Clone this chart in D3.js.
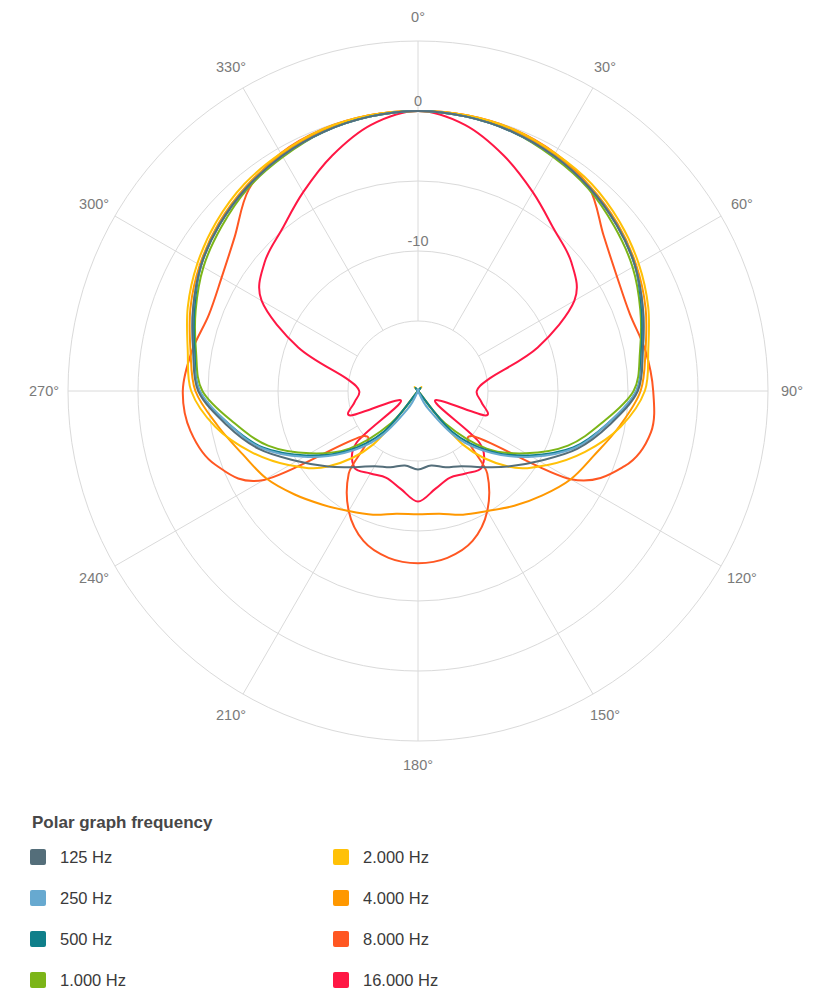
<!DOCTYPE html>
<html><head><meta charset="utf-8">
<script src="https://cdn.jsdelivr.net/npm/d3@7"></script>
<style>
body{margin:0;background:#fff;font-family:"Liberation Sans",Arial,Helvetica,sans-serif;}
</style></head><body>
<svg id="chart" width="825" height="993"></svg>
<script>
const angles = [0,10,20,30,40,50,60,70,80,90,100,110,120,130,140,150,160,170,180,190,200,210,220,230,240,250,260,270,280,290,300,310,320,330,340,350];
const hz125 = [0,-0.1,-0.3,-0.6,-1.0,-1.5,-2.1,-2.9,-3.7,-4.3,-6.1,-7.9,-10.0,-11.6,-12.9,-13.8,-14.2,-14.6,-14.4,-14.6,-14.2,-13.8,-12.9,-11.6,-10.0,-7.9,-6.1,-4.3,-3.7,-2.9,-2.1,-1.5,-1.0,-0.6,-0.3,-0.1];
const hz250 = [0,-0.1,-0.3,-0.6,-1.0,-1.5,-2.1,-2.9,-3.7,-4.4,-6.3,-8.1,-10.6,-13.1,-15.6,-18.5,-23.5,-27.0,-28.0,-27.0,-23.5,-18.5,-15.6,-13.1,-10.6,-8.1,-6.3,-4.4,-3.7,-2.9,-2.1,-1.5,-1.0,-0.6,-0.3,-0.1];
const hz500 = [0,-0.1,-0.3,-0.6,-1.0,-1.5,-2.1,-3.0,-3.8,-4.4,-6.3,-8.2,-10.8,-13.3,-16.2,-21.0,-25.0,-28.0,-29.0,-28.0,-25.0,-21.0,-16.2,-13.3,-10.8,-8.2,-6.3,-4.4,-3.8,-3.0,-2.1,-1.5,-1.0,-0.6,-0.3,-0.1];
const hz1000 = [0,-0.1,-0.3,-0.7,-1.1,-1.7,-2.3,-3.1,-3.9,-4.6,-6.7,-8.6,-11.1,-13.6,-17.0,-22.0,-26.0,-28.0,-30.0,-28.0,-26.0,-22.0,-17.0,-13.6,-11.1,-8.6,-6.7,-4.6,-3.9,-3.1,-2.3,-1.7,-1.1,-0.7,-0.3,-0.1];
const hz2000 = [0,0,-0.1,-0.4,-0.7,-1.2,-1.8,-2.5,-3.3,-3.8,-5.3,-7.3,-9.4,-11.6,-15.0,-21.0,-25.0,-27.0,-27.0,-27.0,-25.0,-21.0,-15.0,-11.6,-9.4,-7.3,-5.3,-3.8,-3.3,-2.5,-1.8,-1.2,-0.7,-0.4,-0.1,0];
const hz4000 = [0,0,-0.2,-0.5,-0.9,-1.4,-2.0,-2.7,-3.5,-4.1,-5.4,-6.6,-7.4,-8.4,-9.3,-10.1,-10.6,-11.1,-11.2,-11.1,-10.6,-10.1,-9.4,-8.5,-7.5,-6.7,-5.5,-4.1,-3.5,-2.7,-2.0,-1.4,-0.9,-0.5,-0.2,0];
const hz8000 = [0,0,-0.1,-0.4,-1.0,-2.7,-3.6,-3.9,-3.5,-3.2,-3.1,-4.3,-7.4,-15.0,-12.3,-10.1,-8.6,-7.9,-7.7,-7.9,-8.6,-10.1,-12.3,-15.0,-7.3,-4.6,-3.5,-3.2,-3.6,-4.1,-3.8,-2.9,-1.2,-0.4,-0.1,0];
const hz16000 = [0,-0.7,-2.1,-3.6,-4.9,-5.7,-7.1,-10.9,-14.8,-15.8,-15.4,-14.9,-18.6,-14.3,-12.9,-13.2,-13.4,-12.9,-12.1,-12.9,-13.4,-13.2,-12.9,-14.3,-18.6,-14.9,-15.4,-15.8,-14.8,-10.9,-7.1,-5.7,-4.9,-3.6,-2.1,-0.7];

const seriesNames = ["125 Hz","250 Hz","500 Hz","1.000 Hz","2.000 Hz","4.000 Hz","8.000 Hz","16.000 Hz"];
const seriesColors = ["#546E7A","#67A9D0","#0F7F8A","#7CB518","#FFC107","#FF9800","#FF5722","#FF1744"];
const seriesValues = [hz125,hz250,hz500,hz1000,hz2000,hz4000,hz8000,hz16000];

const gridAngles = [0,30,60,90,120,150,180,210,240,270,300,330];
const gridAngleLabels = ["0°","30°","60°","90°","120°","150°","180°","210°","240°","270°","300°","330°"];
const radialTicks = [-15,-10,-5,0,5];
const radialTickLabels = ["","-10","","0",""];
const legendTitle = "Polar graph frequency";

const svg = d3.select("#chart");
const cx = 418, cy = 391, R = 350;
const r = d3.scaleLinear().domain([-20,5]).range([0,R]).clamp(true);
const rad = d => d * Math.PI / 180;
const g = svg.append("g").attr("transform", `translate(${cx},${cy})`);

g.selectAll("circle.grid").data(radialTicks).join("circle")
  .attr("class","grid").attr("r", d => r(d))
  .attr("fill","none").attr("stroke","#dadada").attr("stroke-width",1);

g.selectAll("line.spoke").data(gridAngles).join("line")
  .attr("class","spoke")
  .attr("x1", d => r(radialTicks[0]) * Math.sin(rad(d)))
  .attr("y1", d => -r(radialTicks[0]) * Math.cos(rad(d)))
  .attr("x2", d => R * Math.sin(rad(d)))
  .attr("y2", d => -R * Math.cos(rad(d)))
  .attr("stroke","#dadada").attr("stroke-width",1);

g.selectAll("text.alab").data(gridAngles).join("text")
  .attr("class","alab")
  .attr("x", d => (R + 24) * Math.sin(rad(d)))
  .attr("y", d => -(R + 24) * Math.cos(rad(d)))
  .attr("text-anchor","middle").attr("dominant-baseline","central")
  .attr("font-size","14.5px").attr("fill","#7a7a7a")
  .text((d,i) => gridAngleLabels[i]);

g.selectAll("text.rlab").data(radialTicks).join("text")
  .attr("class","rlab")
  .attr("x", 0)
  .attr("y", d => -r(d) - 10)
  .attr("text-anchor","middle").attr("dominant-baseline","central")
  .attr("font-size","14.5px").attr("fill","#7a7a7a")
  .text((d,i) => radialTickLabels[i]);

const line = d3.lineRadial()
  .angle(d => rad(d.a))
  .radius(d => r(d.v))
  .curve(d3.curveCardinalClosed.tension(0));

const series = seriesNames.map((n,i) => ({
  name: n, color: seriesColors[i],
  pts: angles.map((a,j) => ({a: a, v: seriesValues[i][j]}))
}));

g.selectAll("path.series").data(series.slice().reverse()).join("path")
  .attr("class","series")
  .attr("d", d => line(d.pts))
  .attr("fill","none")
  .attr("stroke", d => d.color)
  .attr("stroke-width", 2)
  .attr("stroke-linejoin","round");

const lg = svg.append("g");
lg.append("text").attr("x",32).attr("y",828)
  .attr("font-size","17px").attr("font-weight","bold").attr("fill","#474747")
  .text(legendTitle);

const items = lg.selectAll("g.item").data(series).join("g")
  .attr("class","item")
  .attr("transform", (d,i) => `translate(${i < 4 ? 30 : 333},${849 + (i % 4) * 41})`);
items.append("rect").attr("width",16).attr("height",16).attr("rx",2)
  .attr("fill", d => d.color);
items.append("text").attr("x",30).attr("y",14)
  .attr("font-size","16.5px").attr("fill","#3a3a3a")
  .text(d => d.name);
</script>
</body></html>
